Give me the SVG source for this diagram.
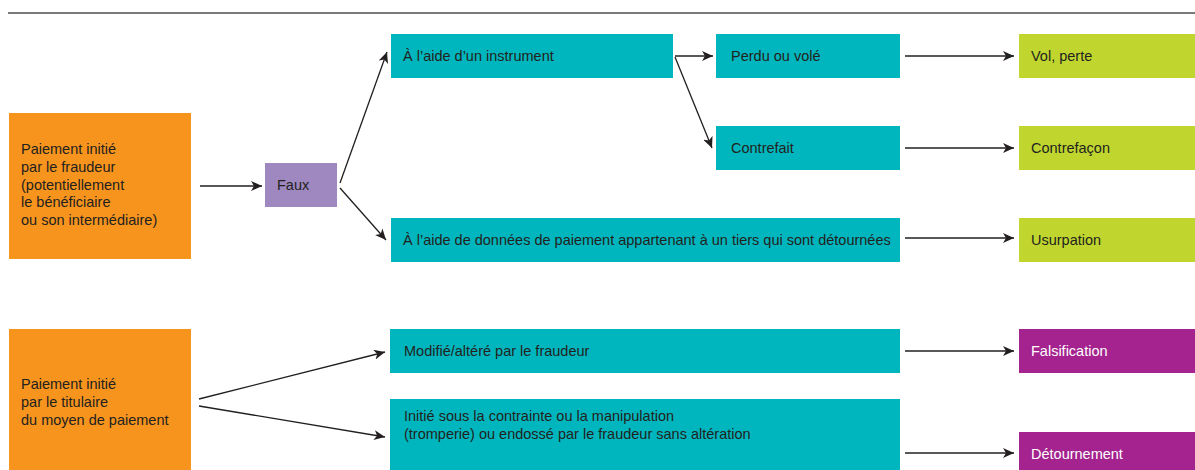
<svg xmlns="http://www.w3.org/2000/svg" width="1195" height="470" viewBox="0 0 1195 470">
<style>
  text { font-family: "Liberation Sans", Arial, sans-serif; font-size: 14.5px; fill: #231F20; }
  .orange { fill: #F7941D; }
  .teal { fill: #00B6BE; }
  .lilac { fill: #9F88C0; }
  .lime { fill: #C0D62F; }
  .magenta { fill: #A4238E; }
  .light { fill: #FFFFFF; }
  .conn { stroke: #231F20; stroke-width: 1.3; fill: none; marker-end: url(#arrow); }
</style>
<defs>
  <marker id="arrow" markerUnits="userSpaceOnUse" markerWidth="12" markerHeight="10" refX="11" refY="5" orient="auto">
    <path d="M0,0 L11,5 L0,10 L3,5 Z" fill="#231F20"/>
  </marker>
</defs>
<rect width="1195" height="470" fill="#FFFFFF"/>
<line x1="8" y1="13" x2="1195" y2="13" stroke="#4D4D4D" stroke-width="1.5"/>

<g id="connectors">
  <line class="conn" x1="200" y1="186" x2="262" y2="186"/>
  <line class="conn" x1="340" y1="183" x2="387" y2="52"/>
  <line class="conn" x1="340" y1="188" x2="386" y2="240"/>
  <line class="conn" x1="675" y1="56" x2="713" y2="56"/>
  <line class="conn" x1="675" y1="57" x2="712" y2="148"/>
  <line class="conn" x1="905" y1="56" x2="1014" y2="56"/>
  <line class="conn" x1="905" y1="148" x2="1014" y2="148"/>
  <line class="conn" x1="905" y1="238" x2="1014" y2="238"/>
  <line class="conn" x1="199" y1="399" x2="385" y2="352"/>
  <line class="conn" x1="199" y1="406" x2="385" y2="437"/>
  <line class="conn" x1="905" y1="351" x2="1014" y2="351"/>
  <line class="conn" x1="905" y1="453" x2="1014" y2="453"/>
</g>

<g id="fraudeur">
  <rect class="orange" x="9" y="113" width="182" height="146"/>
  <text x="21" y="154">Paiement initié</text>
  <text x="21" y="172">par le fraudeur</text>
  <text x="21" y="190">(potentiellement</text>
  <text x="21" y="207">le bénéficiaire</text>
  <text x="21" y="225">ou son intermédiaire)</text>
</g>
<g id="faux">
  <rect class="lilac" x="265" y="163" width="72" height="44"/>
  <text x="277" y="190">Faux</text>
</g>
<g id="instrument">
  <rect class="teal" x="391" y="34" width="282" height="44"/>
  <text x="403" y="61">À l’aide d’un instrument</text>
</g>
<g id="perdu">
  <rect class="teal" x="716" y="34" width="184" height="44"/>
  <text x="731" y="61">Perdu ou volé</text>
</g>
<g id="contrefait">
  <rect class="teal" x="716" y="126" width="184" height="44"/>
  <text x="731" y="153">Contrefait</text>
</g>
<g id="donnees">
  <rect class="teal" x="391" y="218" width="509" height="44"/>
  <text x="403" y="245">À l’aide de données de paiement appartenant à un tiers qui sont détournées</text>
</g>
<g id="vol">
  <rect class="lime" x="1019" y="34" width="176" height="44"/>
  <text x="1031" y="61">Vol, perte</text>
</g>
<g id="contrefacon">
  <rect class="lime" x="1019" y="126" width="176" height="44"/>
  <text x="1031" y="153">Contrefaçon</text>
</g>
<g id="usurpation">
  <rect class="lime" x="1019" y="218" width="176" height="44"/>
  <text x="1031" y="245">Usurpation</text>
</g>

<g id="titulaire">
  <rect class="orange" x="9" y="329" width="182" height="141"/>
  <text x="21" y="389">Paiement initié</text>
  <text x="21" y="407">par le titulaire</text>
  <text x="21" y="425">du moyen de paiement</text>
</g>
<g id="modifie">
  <rect class="teal" x="390" y="329" width="510" height="44"/>
  <text x="404" y="356">Modifié/altéré par le fraudeur</text>
</g>
<g id="initie">
  <rect class="teal" x="390" y="399" width="510" height="71"/>
  <text x="404" y="421">Initié sous la contrainte ou la manipulation</text>
  <text x="404" y="439">(tromperie) ou endossé par le fraudeur sans altération</text>
</g>
<g id="falsification">
  <rect class="magenta" x="1019" y="329" width="176" height="44"/>
  <text class="light" x="1031" y="356">Falsification</text>
</g>
<g id="detournement">
  <rect class="magenta" x="1019" y="432" width="176" height="38"/>
  <text class="light" x="1031" y="459">Détournement</text>
</g>
</svg>
